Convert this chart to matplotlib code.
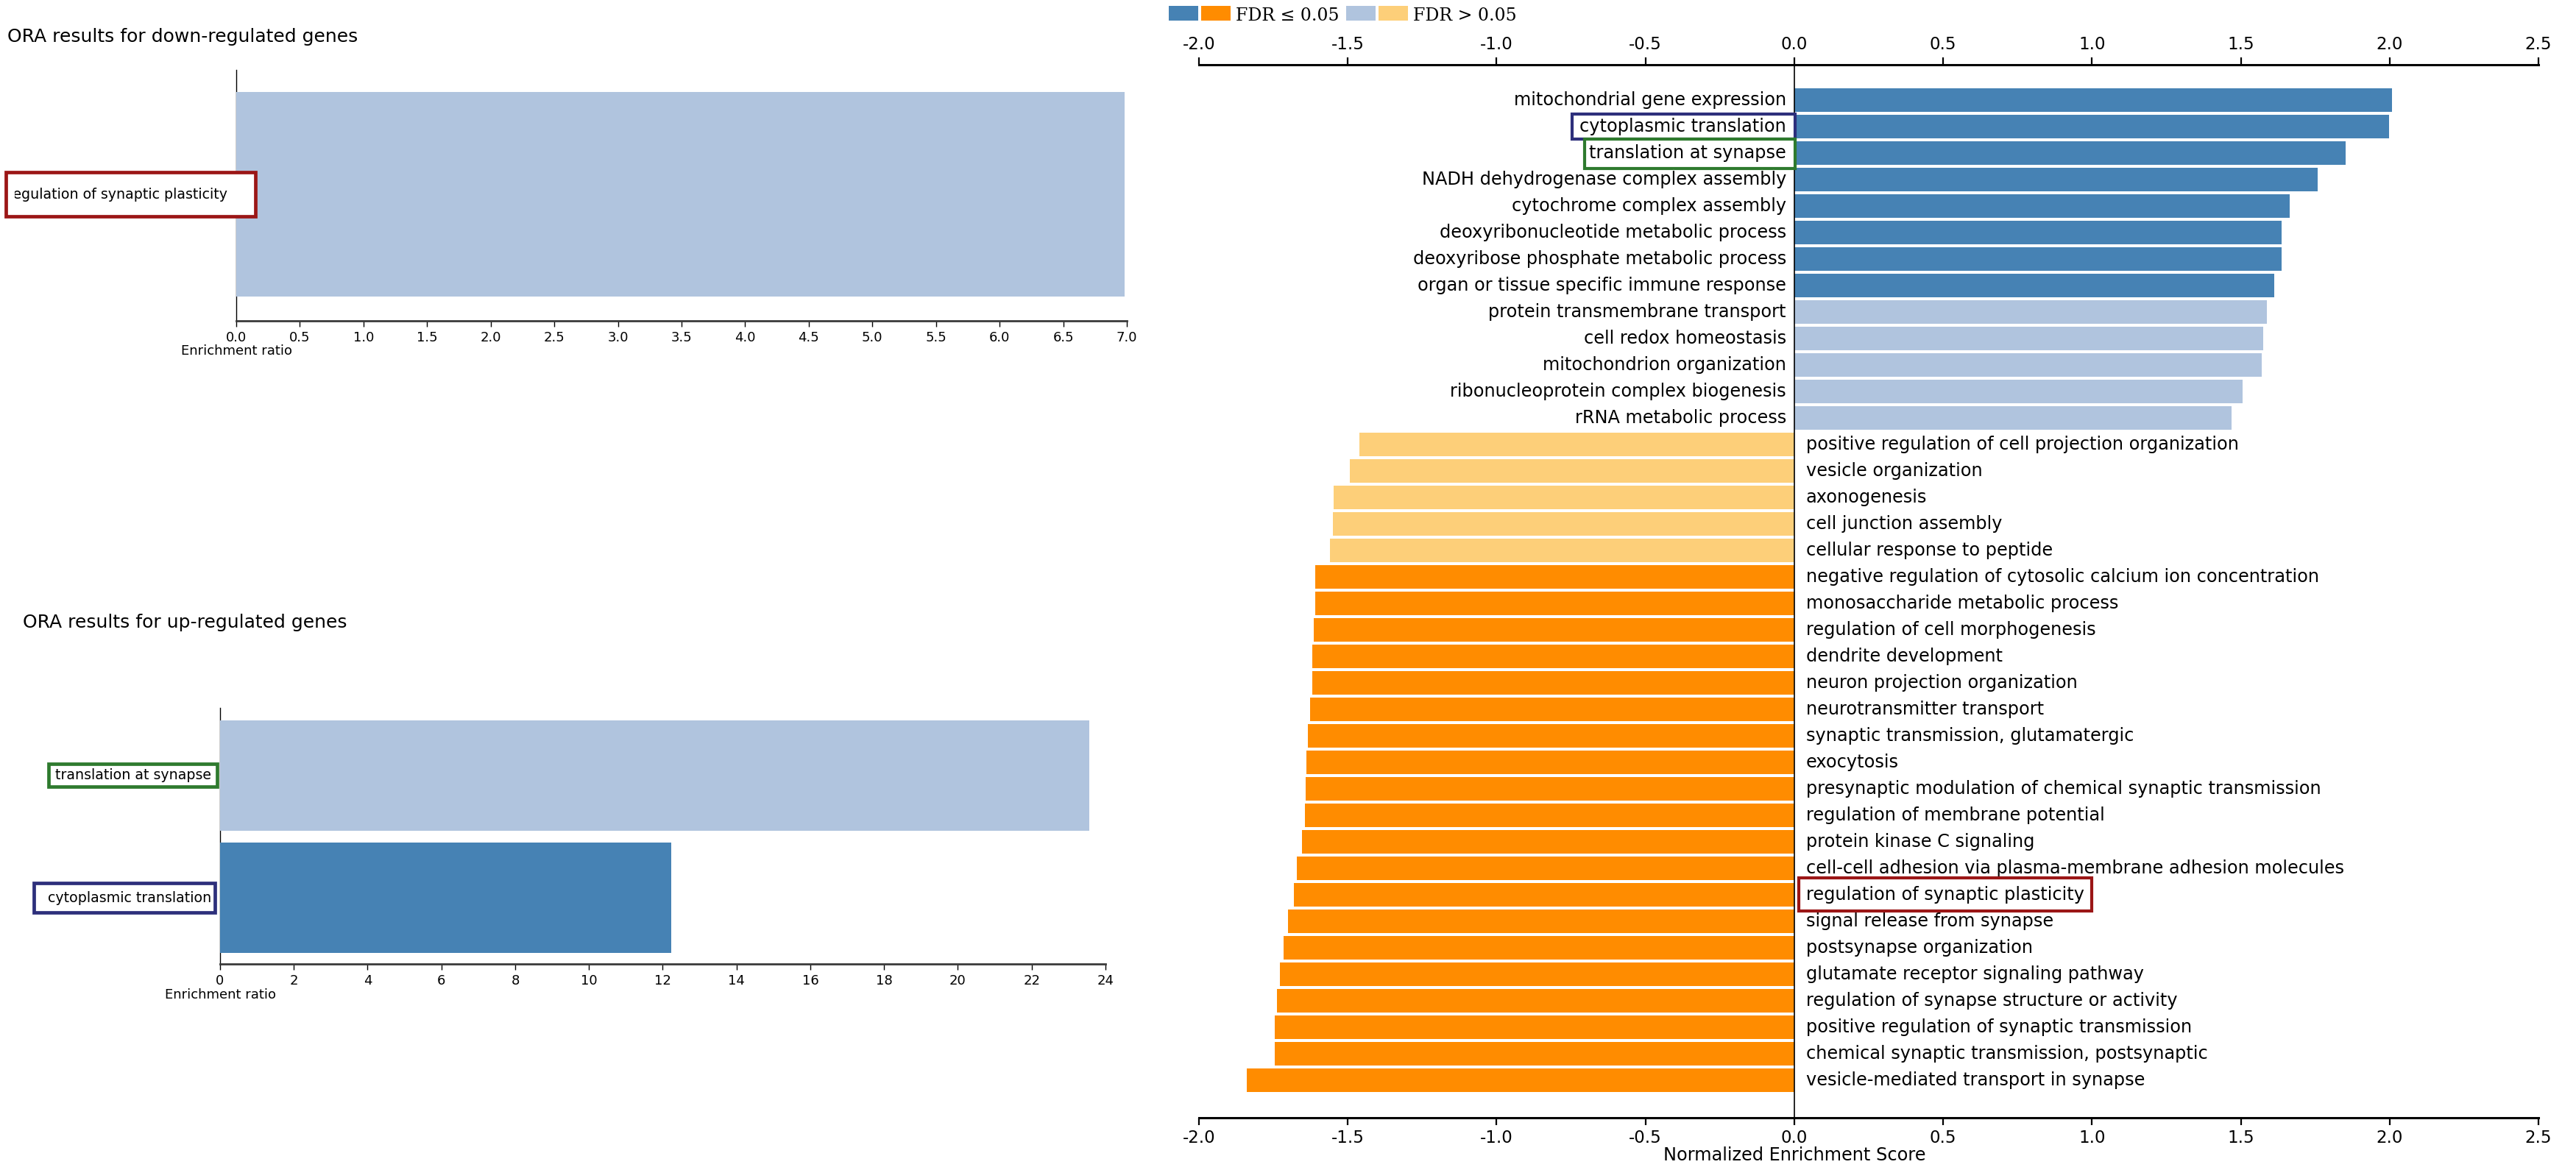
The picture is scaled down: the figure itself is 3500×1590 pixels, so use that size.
import numpy as np
import matplotlib
matplotlib.use("Agg")
import matplotlib.pyplot as plt
from matplotlib.patches import Rectangle
from matplotlib.transforms import (Affine2D, Bbox, TransformedBbox, IdentityTransform,
                                   blended_transform_factory, offset_copy)

# ---------------- data ----------------
gsea_terms = [
    "mitochondrial gene expression", "cytoplasmic translation", "translation at synapse",
    "NADH dehydrogenase complex assembly", "cytochrome complex assembly",
    "deoxyribonucleotide metabolic process", "deoxyribose phosphate metabolic process",
    "organ or tissue specific immune response", "protein transmembrane transport",
    "cell redox homeostasis", "mitochondrion organization",
    "ribonucleoprotein complex biogenesis", "rRNA metabolic process",
    "positive regulation of cell projection organization", "vesicle organization",
    "axonogenesis", "cell junction assembly", "cellular response to peptide",
    "negative regulation of cytosolic calcium ion concentration",
    "monosaccharide metabolic process", "regulation of cell morphogenesis",
    "dendrite development", "neuron projection organization", "neurotransmitter transport",
    "synaptic transmission, glutamatergic", "exocytosis",
    "presynaptic modulation of chemical synaptic transmission",
    "regulation of membrane potential", "protein kinase C signaling",
    "cell-cell adhesion via plasma-membrane adhesion molecules",
    "regulation of synaptic plasticity", "signal release from synapse",
    "postsynapse organization", "glutamate receptor signaling pathway",
    "regulation of synapse structure or activity",
    "positive regulation of synaptic transmission",
    "chemical synaptic transmission, postsynaptic", "vesicle-mediated transport in synapse",
]
gsea_nes = [2.009, 1.997, 1.852, 1.758, 1.664, 1.636, 1.636, 1.612, 1.588, 1.576, 1.570,
            1.506, 1.470,
            -1.461, -1.494, -1.548, -1.550, -1.561, -1.609, -1.609, -1.615, -1.618, -1.618,
            -1.627, -1.633, -1.639, -1.642, -1.645, -1.655, -1.670, -1.682, -1.700, -1.715,
            -1.727, -1.739, -1.745, -1.745, -1.839]
gsea_fdr_sig = [True] * 8 + [False] * 5 + [False] * 5 + [True] * 20

ora_down_terms = ["regulation of synaptic plasticity"]
ora_down_ratio = [6.98]
ora_down_sig = [False]

ora_up_terms = ["translation at synapse", "cytoplasmic translation"]
ora_up_ratio = [23.57, 12.22]
ora_up_sig = [False, True]

highlight = {
    "regulation of synaptic plasticity": "#9b1616",
    "cytoplasmic translation": "#2d2f7b",
    "translation at synapse": "#2e7a2e",
}

# ---------------- style ----------------
C_POS_SIG, C_POS_NS = "#4682b4", "#b0c4de"
C_NEG_SIG, C_NEG_NS = "#ff8c00", "#fdcf79"

W, H = 3500, 1590
plt.rcParams["font.family"] = ["DejaVu Sans"]
fig = plt.figure(figsize=(W / 100, H / 100), dpi=100)
pix = Affine2D().scale(1, -1).translate(0, H)  # pixel coords, origin top-left


def ax_px(x0, y0, x1, y1):
    return fig.add_axes([x0 / W, 1 - y1 / H, (x1 - x0) / W, (y1 - y0) / H])


box_requests = []  # (text_artist, color, pads l,r,t,b, lw)

# ---------------- right: GSEA ----------------
axR = ax_px(1629, 88, 3449, 1519)
yR = np.arange(len(gsea_terms))
colR = [(C_POS_SIG if s else C_POS_NS) if v > 0 else (C_NEG_SIG if s else C_NEG_NS)
        for v, s in zip(gsea_nes, gsea_fdr_sig)]
axR.barh(yR, gsea_nes, height=0.89, color=colR, zorder=3)
axR.set_xlim(-2.0, 2.5)
axR.set_ylim(len(gsea_terms) - 1 + 1.42, -1.333)
axR.axvline(0, color="black", lw=1.2, zorder=4)
for s in ["left", "right"]:
    axR.spines[s].set_visible(False)
for s in ["top", "bottom"]:
    axR.spines[s].set_linewidth(2.2)
axR.set_yticks([])
xtR = np.arange(-2.0, 2.51, 0.5)
axR.set_xticks(xtR)
axR.set_xticklabels([f"{t:.1f}" for t in xtR])
axR.tick_params(axis="x", which="both", top=True, labeltop=True, bottom=True,
                labelbottom=True, direction="out", length=7.5, width=1.6,
                labelsize=16.5, pad=4)
tl = offset_copy(axR.transData, fig=fig, x=-11, y=0, units="dots")
tr = offset_copy(axR.transData, fig=fig, x=16, y=0, units="dots")
right_pads = {
    "cytoplasmic translation": (10, 12, 5, 5),
    "translation at synapse": (6, 12, 7, 9),
    "regulation of synaptic plasticity": (10, 10, 11, 10),
}
for i, (term, v) in enumerate(zip(gsea_terms, gsea_nes)):
    if v > 0:
        t = axR.text(0, i, term, ha="right", va="center", fontsize=17.3, transform=tl, zorder=6)
    else:
        t = axR.text(0, i, term, ha="left", va="center", fontsize=17.3, transform=tr, zorder=6)
    if term in highlight:
        box_requests.append((t, highlight[term], right_pads[term], 3.0))
axR.text(0, 1570, "Normalized Enrichment Score", ha="center", va="center", fontsize=17.3,
         transform=blended_transform_factory(axR.transData, pix))

# legend
leg_items = [((C_POS_SIG, C_NEG_SIG), "FDR \u2264 0.05"), ((C_POS_NS, C_NEG_NS), "FDR > 0.05")]
x = 1588
for cols, lab in leg_items:
    for c in cols:
        fig.patches.append(Rectangle((x, 8), 40, 20, transform=pix, facecolor=c,
                                     edgecolor="none"))
        x += 44
    tt = fig.text(x + 3, 28, lab, transform=pix, fontsize=17, family="DejaVu Serif",
                  ha="left", va="baseline")
    fig.canvas.draw()
    bb = tt.get_window_extent()
    x = bb.x1 + 9


# ---------------- left ORA panels ----------------
def ora_panel(rect, terms, ratios, sig, xmax, xstep, fmt, bar_h, ylim, title, title_xy,
              label_y, pads, clip_left=None):
    ax = ax_px(*rect)
    y = np.arange(len(terms))
    cols = [C_POS_SIG if s else C_POS_NS for s in sig]
    ax.barh(y, ratios, height=bar_h, color=cols, zorder=3)
    ax.set_xlim(0, xmax)
    ax.set_ylim(*ylim)
    for s in ["top", "right"]:
        ax.spines[s].set_visible(False)
    ax.spines["left"].set_linewidth(1.0)
    ax.spines["bottom"].set_linewidth(2.0)
    ax.spines["bottom"].set_color("#3a3a3a")
    ax.set_yticks([])
    xt = np.arange(0, xmax + 1e-9, xstep)
    ax.set_xticks(xt)
    ax.set_xticklabels([fmt.format(v) for v in xt])
    ax.tick_params(axis="x", direction="out", length=6, width=1.0, labelsize=13, pad=4)
    ax.text(0, label_y, "Enrichment ratio", ha="center", va="center", fontsize=13,
            transform=blended_transform_factory(ax.transData, pix))
    fig.text(title_xy[0], title_xy[1], title, transform=pix, fontsize=18, ha="left",
             va="center")
    off = offset_copy(ax.transData, fig=fig, x=-12, y=0, units="dots")
    for i, term in enumerate(terms):
        t = ax.text(0, i, term, ha="right", va="center", fontsize=13.7, transform=off,
                    zorder=7, clip_on=False)
        if clip_left is not None:
            t.set_clip_box(TransformedBbox(Bbox([[clip_left, 0], [W, H]]), IdentityTransform()))
            t.set_clip_on(True)
        if term in highlight:
            box_requests.append((t, highlight[term], pads[term], 3.4))
    return ax


ora_panel((321, 95, 1531, 436), ora_down_terms, ora_down_ratio, ora_down_sig, 7.0, 0.5,
          "{:.1f}", 1.0, (-0.618, 0.608), "ORA results for down-regulated genes", (10, 50),
          477, {"regulation of synaptic plasticity": (2, 38, 21, 20)}, clip_left=20)

ora_panel((299, 962, 1502, 1310), ora_up_terms, ora_up_ratio, ora_up_sig, 24, 2,
          "{:.0f}", 0.904, (1.542, -0.554), "ORA results for up-regulated genes", (31, 846),
          1352, {"translation at synapse": (9, 8, 6, 6),
                 "cytoplasmic translation": (19, 5, 11, 10)})

# ---------------- highlight boxes around labels ----------------
fig.canvas.draw()
rend = fig.canvas.get_renderer()
for t, col, (pl, pr, pt, pb), lw in box_requests:
    was = t.get_clip_on()
    t.set_clip_on(False)
    bb = t.get_window_extent(renderer=rend)
    t.set_clip_on(was)
    fig.patches.append(Rectangle((bb.x0 - pl, bb.y0 - pb), bb.width + pl + pr,
                                 bb.height + pt + pb, transform=IdentityTransform(),
                                 facecolor="white", edgecolor=col, lw=lw, zorder=5))
    t.set_zorder(8)
    t.remove()
    fig.texts.append(t)
    t.figure = fig

fig.savefig("out.png", dpi=100)
